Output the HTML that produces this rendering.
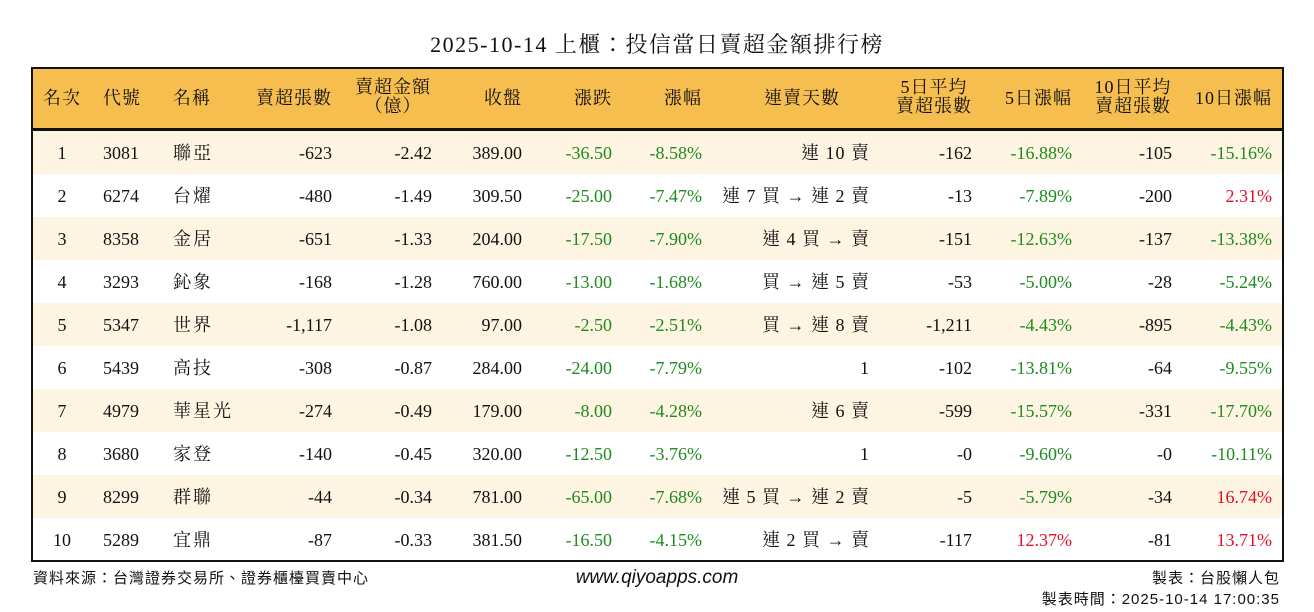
<!DOCTYPE html>
<html><head><meta charset="utf-8"><style>
body{margin:0;width:1314px;height:612px;background:#fff;position:relative;font-family:"Liberation Serif","Noto Serif CJK TC","Noto Serif CJK SC",serif;color:#111;overflow:hidden}
.t{position:absolute;left:0;width:1314px;top:28px;text-align:center;font-size:22px;letter-spacing:1.5px}
.tb{position:absolute;left:31px;top:67px;width:1249px;height:491px;border:2px solid #111}
.hd{position:absolute;left:33px;top:69px;width:1249px;height:59px;background:#F6BE4F;border-bottom:3px solid #111}
.r{position:absolute;left:33px;width:1249px;height:43px}
.a{background:#FDF5E2}
.c{position:absolute;font-size:18px;line-height:20px;white-space:nowrap}
.row .c{top:12px}
.g{color:#1f8a1f}.d{color:#e0102a}
.c1{left:-2px;width:62px;text-align:center}
.c2{left:70px;width:60px}
.c3{left:140px;width:80px;letter-spacing:2px}
.c4{left:199px;width:100px;text-align:right}
.c5{left:309px;width:90px;text-align:right}
.c6{left:409px;width:80px;text-align:right}
.c7{left:499px;width:80px;text-align:right}
.c8{left:589px;width:80px;text-align:right}
.c9{left:637px;width:200px;text-align:right;letter-spacing:1px}
.c10{left:847px;width:92px;text-align:right}
.c11{left:947px;width:92px;text-align:right}
.c12{left:1047px;width:92px;text-align:right}
.c13{left:1147px;width:92px;text-align:right}
.h .c{top:19px;letter-spacing:1px}
.h .two{top:9px;line-height:19px;text-align:center}
.f{position:absolute;font-family:"Liberation Sans","Noto Sans CJK TC",sans-serif;font-size:15px}
</style></head><body>
<div class="t">2025-10-14 上櫃：投信當日賣超金額排行榜</div>
<div class="hd h">
<div class="c c1">名次</div><div class="c c2">代號</div><div class="c c3">名稱</div>
<div class="c c4">賣超張數</div><div class="c two" style="left:320px;width:80px">賣超金額<br>（億）</div>
<div class="c c6">收盤</div><div class="c c7">漲跌</div><div class="c c8">漲幅</div>
<div class="c" style="left:724px;width:90px;text-align:center">連賣天數</div>
<div class="c two" style="left:860px;width:82px">5日平均<br>賣超張數</div>
<div class="c c11">5日漲幅</div>
<div class="c two" style="left:1058px;width:84px">10日平均<br>賣超張數</div>
<div class="c c13">10日漲幅</div>
</div>
<div class="r row a" style="top:131px"><div class="c c1">1</div><div class="c c2">3081</div><div class="c c3">聯亞</div><div class="c c4">-623</div><div class="c c5">-2.42</div><div class="c c6">389.00</div><div class="c c7 g">-36.50</div><div class="c c8 g">-8.58%</div><div class="c c9">連 10 賣</div><div class="c c10">-162</div><div class="c c11 g">-16.88%</div><div class="c c12">-105</div><div class="c c13 g">-15.16%</div></div>
<div class="r row" style="top:174px"><div class="c c1">2</div><div class="c c2">6274</div><div class="c c3">台燿</div><div class="c c4">-480</div><div class="c c5">-1.49</div><div class="c c6">309.50</div><div class="c c7 g">-25.00</div><div class="c c8 g">-7.47%</div><div class="c c9">連 7 買 → 連 2 賣</div><div class="c c10">-13</div><div class="c c11 g">-7.89%</div><div class="c c12">-200</div><div class="c c13 d">2.31%</div></div>
<div class="r row a" style="top:217px"><div class="c c1">3</div><div class="c c2">8358</div><div class="c c3">金居</div><div class="c c4">-651</div><div class="c c5">-1.33</div><div class="c c6">204.00</div><div class="c c7 g">-17.50</div><div class="c c8 g">-7.90%</div><div class="c c9">連 4 買 → 賣</div><div class="c c10">-151</div><div class="c c11 g">-12.63%</div><div class="c c12">-137</div><div class="c c13 g">-13.38%</div></div>
<div class="r row" style="top:260px"><div class="c c1">4</div><div class="c c2">3293</div><div class="c c3">鈊象</div><div class="c c4">-168</div><div class="c c5">-1.28</div><div class="c c6">760.00</div><div class="c c7 g">-13.00</div><div class="c c8 g">-1.68%</div><div class="c c9">買 → 連 5 賣</div><div class="c c10">-53</div><div class="c c11 g">-5.00%</div><div class="c c12">-28</div><div class="c c13 g">-5.24%</div></div>
<div class="r row a" style="top:303px"><div class="c c1">5</div><div class="c c2">5347</div><div class="c c3">世界</div><div class="c c4">-1,117</div><div class="c c5">-1.08</div><div class="c c6">97.00</div><div class="c c7 g">-2.50</div><div class="c c8 g">-2.51%</div><div class="c c9">買 → 連 8 賣</div><div class="c c10">-1,211</div><div class="c c11 g">-4.43%</div><div class="c c12">-895</div><div class="c c13 g">-4.43%</div></div>
<div class="r row" style="top:346px"><div class="c c1">6</div><div class="c c2">5439</div><div class="c c3">高技</div><div class="c c4">-308</div><div class="c c5">-0.87</div><div class="c c6">284.00</div><div class="c c7 g">-24.00</div><div class="c c8 g">-7.79%</div><div class="c c9">1</div><div class="c c10">-102</div><div class="c c11 g">-13.81%</div><div class="c c12">-64</div><div class="c c13 g">-9.55%</div></div>
<div class="r row a" style="top:389px"><div class="c c1">7</div><div class="c c2">4979</div><div class="c c3">華星光</div><div class="c c4">-274</div><div class="c c5">-0.49</div><div class="c c6">179.00</div><div class="c c7 g">-8.00</div><div class="c c8 g">-4.28%</div><div class="c c9">連 6 賣</div><div class="c c10">-599</div><div class="c c11 g">-15.57%</div><div class="c c12">-331</div><div class="c c13 g">-17.70%</div></div>
<div class="r row" style="top:432px"><div class="c c1">8</div><div class="c c2">3680</div><div class="c c3">家登</div><div class="c c4">-140</div><div class="c c5">-0.45</div><div class="c c6">320.00</div><div class="c c7 g">-12.50</div><div class="c c8 g">-3.76%</div><div class="c c9">1</div><div class="c c10">-0</div><div class="c c11 g">-9.60%</div><div class="c c12">-0</div><div class="c c13 g">-10.11%</div></div>
<div class="r row a" style="top:475px"><div class="c c1">9</div><div class="c c2">8299</div><div class="c c3">群聯</div><div class="c c4">-44</div><div class="c c5">-0.34</div><div class="c c6">781.00</div><div class="c c7 g">-65.00</div><div class="c c8 g">-7.68%</div><div class="c c9">連 5 買 → 連 2 賣</div><div class="c c10">-5</div><div class="c c11 g">-5.79%</div><div class="c c12">-34</div><div class="c c13 d">16.74%</div></div>
<div class="r row" style="top:518px"><div class="c c1">10</div><div class="c c2">5289</div><div class="c c3">宜鼎</div><div class="c c4">-87</div><div class="c c5">-0.33</div><div class="c c6">381.50</div><div class="c c7 g">-16.50</div><div class="c c8 g">-4.15%</div><div class="c c9">連 2 買 → 賣</div><div class="c c10">-117</div><div class="c c11 d">12.37%</div><div class="c c12">-81</div><div class="c c13 d">13.71%</div></div>
<div class="tb"></div>
<div class="f" style="left:33px;top:567px;letter-spacing:1px">資料來源：台灣證券交易所、證券櫃檯買賣中心</div>
<div class="f" style="left:557px;top:567px;width:200px;text-align:center;font-size:19px;font-style:italic">www.qiyoapps.com</div>
<div class="f" style="right:34px;top:567px;letter-spacing:1px">製表：台股懶人包</div>
<div class="f" style="right:34px;top:588px;letter-spacing:1px">製表時間：2025-10-14 17:00:35</div>
</body></html>
